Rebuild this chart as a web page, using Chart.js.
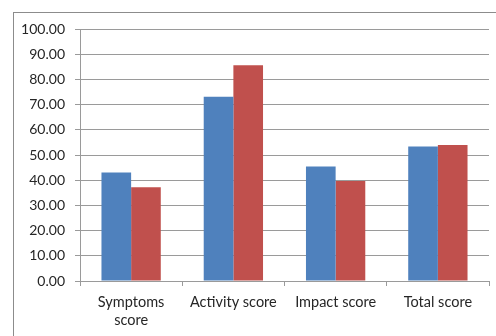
<!DOCTYPE html>
<html>
<head>
<meta charset="utf-8">
<script src="https://cdn.jsdelivr.net/npm/chart.js@4/dist/chart.umd.min.js"></script>
<style>
  html, body { margin: 0; padding: 0; background: #fff; }
  #wrap { position: relative; width: 496px; height: 336px; }
</style>
</head>
<body>
<div id="wrap"><canvas id="c" width="496" height="336"></canvas></div>
<script>
const categories = [["Symptoms", "score"], "Activity score", "Impact score", "Total score"];
const seriesA = [43.1, 73.1, 45.4, 53.4];
const seriesB = [37.2, 85.6, 39.7, 54.0];
const yTicks = [0, 10, 20, 30, 40, 50, 60, 70, 80, 90, 100];

const gridGray = '#9a9a9a';
const textColor = '#262626';
const yFont = { family: 'Lato', size: 14 };
const xFont = { family: 'Lato', size: 14.5, lineHeight: 1.25 };

// thin frame around the whole chart
const framePlugin = {
  id: 'frame',
  beforeDraw(chart) {
    const ctx = chart.ctx;
    ctx.save();
    ctx.strokeStyle = '#8c8c8c';
    ctx.lineWidth = 1;
    ctx.strokeRect(13.5, 12.5, 520, 400);
    ctx.restore();
  }
};

new Chart(document.getElementById('c'), {
  type: 'bar',
  data: {
    labels: categories,
    datasets: [
      { label: 'Series 1', data: seriesA, backgroundColor: '#4F81BD' },
      { label: 'Series 2', data: seriesB, backgroundColor: '#C0504D' }
    ]
  },
  options: {
    responsive: false,
    animation: false,
    devicePixelRatio: 1,
    layout: { padding: { left: 13, top: 29, right: 7, bottom: 0 } },
    plugins: { legend: { display: false }, tooltip: { enabled: false } },
    datasets: { bar: { categoryPercentage: 0.58, barPercentage: 1.0 } },
    scales: {
      x: {
        grid: { color: 'rgba(0,0,0,0)', tickColor: gridGray, tickLength: 5, offset: true },
        border: { color: gridGray },
        ticks: { color: textColor, font: xFont, padding: 7, maxRotation: 0, autoSkip: false },
        afterFit(scale) { scale.height = 55; }
      },
      y: {
        min: 0,
        max: 100,
        afterBuildTicks(scale) { scale.ticks = yTicks.map(v => ({ value: v })); },
        grid: { color: gridGray, tickColor: gridGray, tickLength: 5 },
        border: { color: gridGray },
        ticks: {
          color: textColor,
          font: yFont,
          padding: 10,
          callback: v => Number(v).toFixed(2)
        },
        afterFit(scale) { scale.width = 67; }
      }
    }
  },
  plugins: [framePlugin]
});
</script>
</body>
</html>
